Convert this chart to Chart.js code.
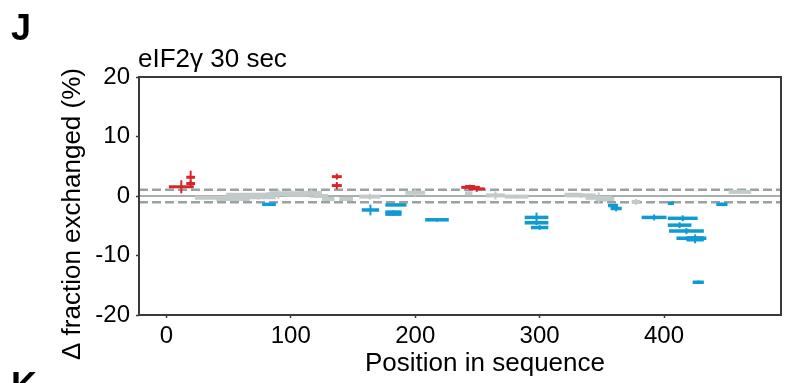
<!DOCTYPE html>
<html>
<head>
<meta charset="utf-8">
<script src="https://cdn.jsdelivr.net/npm/chart.js@4.4.0/dist/chart.umd.min.js"></script>
<style>
  html, body { margin: 0; padding: 0; background: #fff; }
  #wrap { width: 788px; height: 383px; }
</style>
</head>
<body>
<div id="wrap"><canvas id="myChart" width="788" height="383"></canvas></div>
<script>
// peptides: [start residue, end residue, delta fraction exchanged, error]
const redPeptides = [
  [2, 22, 1.55, 1.1],
  [16, 23, 3.15, 1.1],
  [16, 23, 2.1, 0.5],
  [133, 141, 3.25, 0.5],
  [133, 141, 1.75, 0.6],
  [237, 252, 1.45, 0.4],
  [243, 256, 1.2, 0.5],
  [240, 248, 1.6, 0.3]
];
const bluePeptides = [
  [77, 88, -1.4, 0.2],
  [157, 171, -2.35, 0.9],
  [176, 193, -1.5, 0.2],
  [176, 189, -2.7, 0.3],
  [176, 189, -3.05, 0.3],
  [208, 227, -4.0, 0.3],
  [288, 307, -3.6, 0.8],
  [288, 307, -4.5, 0.4],
  [293, 307, -5.3, 0.4],
  [355, 363, -1.6, 0.2],
  [357, 366, -2.1, 0.5],
  [382, 402, -3.6, 0.5],
  [403, 408, -1.2, 0.3],
  [403, 427, -3.75, 0.5],
  [403, 422, -4.9, 0.5],
  [404, 432, -5.9, 0.5],
  [410, 434, -7.1, 0.3],
  [418, 432, -7.05, 0.6],
  [418, 432, -7.35, 0.6],
  [423, 432, -14.5, 0.3],
  [442, 451, -1.4, 0.3]
];
const grayPeptides = [
  [23, 60, -0.3, 0.3],
  [40, 67, -0.5, 0.3],
  [48, 80, 0.2, 0.3],
  [60, 88, -0.2, 0.4],
  [80, 100, 0.3, 0.8],
  [83, 118, 0.45, 0.5],
  [95, 115, 0.2, 0.4],
  [108, 125, 0.5, 0.8],
  [118, 130, 0.0, 0.3],
  [125, 135, -0.5, 0.3],
  [139, 150, -0.5, 0.3],
  [155, 172, -0.1, 0.5],
  [192, 208, 0.55, 0.6],
  [240, 246, 0.45, 0.3],
  [257, 272, 0.1, 0.7],
  [272, 291, -0.1, 0.3],
  [320, 334, 0.2, 0.3],
  [322, 345, 0.1, 0.4],
  [337, 358, -0.3, 0.9],
  [345, 360, -0.5, 0.5],
  [374, 381, -1.0, 0.5],
  [452, 470, 0.7, 0.3]
];
const xTickValues = [0, 100, 200, 300, 400];
const yTickValues = [-20, -10, 0, 10, 20];
const significanceLimit = [1.05, -1.05];

const toPoints = rows => rows.map(r => ({ x: (r[0] + r[1]) / 2, y: r[2], start: r[0], end: r[1], err: r[3] }));

const FONT = '"Liberation Sans", Arial, sans-serif';

const peptidePlugin = {
  id: 'peptides',
  beforeDatasetsDraw(chart) {
    const { ctx, chartArea: a, scales: { x, y } } = chart;
    ctx.save();
    ctx.beginPath();
    ctx.rect(a.left, a.top, a.right - a.left, a.bottom - a.top);
    ctx.clip();
    // zero line
    ctx.strokeStyle = '#a9aeae';
    ctx.lineWidth = 2;
    const y0 = y.getPixelForValue(0);
    ctx.beginPath(); ctx.moveTo(a.left, y0); ctx.lineTo(a.right, y0); ctx.stroke();
    // significance limits
    ctx.setLineDash([9, 4]);
    ctx.strokeStyle = '#9ca1a1';
    ctx.lineWidth = 2.5;
    significanceLimit.forEach(v => {
      const yp = y.getPixelForValue(v);
      ctx.beginPath(); ctx.moveTo(a.left, yp); ctx.lineTo(a.right, yp); ctx.stroke();
    });
    ctx.restore();
  },
  afterDatasetsDraw(chart) {
    const { ctx, chartArea: a, scales: { x, y } } = chart;
    ctx.save();
    ctx.beginPath();
    ctx.rect(a.left, a.top, a.right - a.left, a.bottom - a.top);
    ctx.clip();
    chart.data.datasets.forEach(ds => {
      ctx.strokeStyle = ds.borderColor;
      ds.data.forEach(p => {
        const yp = y.getPixelForValue(p.y);
        const xm = x.getPixelForValue(p.x);
        ctx.lineWidth = ds.barWidth;
        ctx.beginPath();
        ctx.moveTo(x.getPixelForValue(p.start), yp);
        ctx.lineTo(x.getPixelForValue(p.end), yp);
        ctx.stroke();
        ctx.lineWidth = 2;
        ctx.beginPath();
        ctx.moveTo(xm, y.getPixelForValue(p.y + p.err));
        ctx.lineTo(xm, y.getPixelForValue(p.y - p.err));
        ctx.stroke();
      });
    });
    ctx.restore();
  },
  afterDraw(chart) {
    const { ctx, chartArea: a } = chart;
    ctx.save();
    // frame
    ctx.strokeStyle = '#3a3a3a';
    ctx.lineWidth = 2;
    ctx.strokeRect(a.left, a.top, a.right - a.left, a.bottom - a.top);
    // texts
    ctx.fillStyle = '#000';
    ctx.textBaseline = 'alphabetic';
    ctx.font = '26px ' + FONT;
    ctx.textAlign = 'left';
    ctx.fillText('eIF2\u03b3 30 sec', a.left - 1, 67);
    ctx.textAlign = 'center';
    ctx.fillText('Position in sequence', 485, 371);
    ctx.save();
    ctx.translate(80, 214);
    ctx.rotate(-Math.PI / 2);
    ctx.fillText('\u0394 fraction exchanged (%)', 0, 0);
    ctx.restore();
    ctx.textAlign = 'left';
    ctx.font = 'bold 36px ' + FONT;
    ctx.fillText('J', 11, 40);
    ctx.fillText('K', 11, 398);
    ctx.restore();
  }
};

const data = {
  datasets: [
    { label: 'not significant', data: toPoints(grayPeptides), borderColor: '#c2caca', backgroundColor: '#c2caca', pointRadius: 0, barWidth: 4 },
    { label: 'increased', data: toPoints(redPeptides), borderColor: '#d7262b', backgroundColor: '#d7262b', pointRadius: 0, barWidth: 3 },
    { label: 'decreased', data: toPoints(bluePeptides), borderColor: '#0f9ad2', backgroundColor: '#0f9ad2', pointRadius: 0, barWidth: 3.5 }
  ]
};

const config = {
  type: 'scatter',
  data,
  options: {
    responsive: false,
    animation: false,
    layout: { padding: { left: 0, right: 7, top: 77, bottom: 0 } },
    plugins: { legend: { display: false }, tooltip: { enabled: false } },
    scales: {
      x: {
        type: 'linear',
        min: -22,
        max: 494,
        afterBuildTicks: scale => { scale.ticks = xTickValues.map(v => ({ value: v })); },
        afterFit: scale => { scale.height = 68; },
        grid: { drawOnChartArea: false, drawTicks: true, tickLength: 3, tickColor: '#3a3a3a', tickWidth: 1.5 },
        border: { display: false },
        ticks: { color: '#000', padding: 4, maxRotation: 0, font: { family: FONT, size: 24 } }
      },
      y: {
        type: 'linear',
        min: -20,
        max: 20,
        afterBuildTicks: scale => { scale.ticks = yTickValues.map(v => ({ value: v })); },
        afterFit: scale => { scale.width = 139; },
        grid: { drawOnChartArea: false, drawTicks: true, tickLength: 3, tickColor: '#3a3a3a', tickWidth: 1.5 },
        border: { display: false },
        ticks: { color: '#000', padding: 6, font: { family: FONT, size: 24 } }
      }
    }
  },
  plugins: [peptidePlugin]
};

const myChart = new Chart(document.getElementById('myChart'), config);
</script>
</body>
</html>
